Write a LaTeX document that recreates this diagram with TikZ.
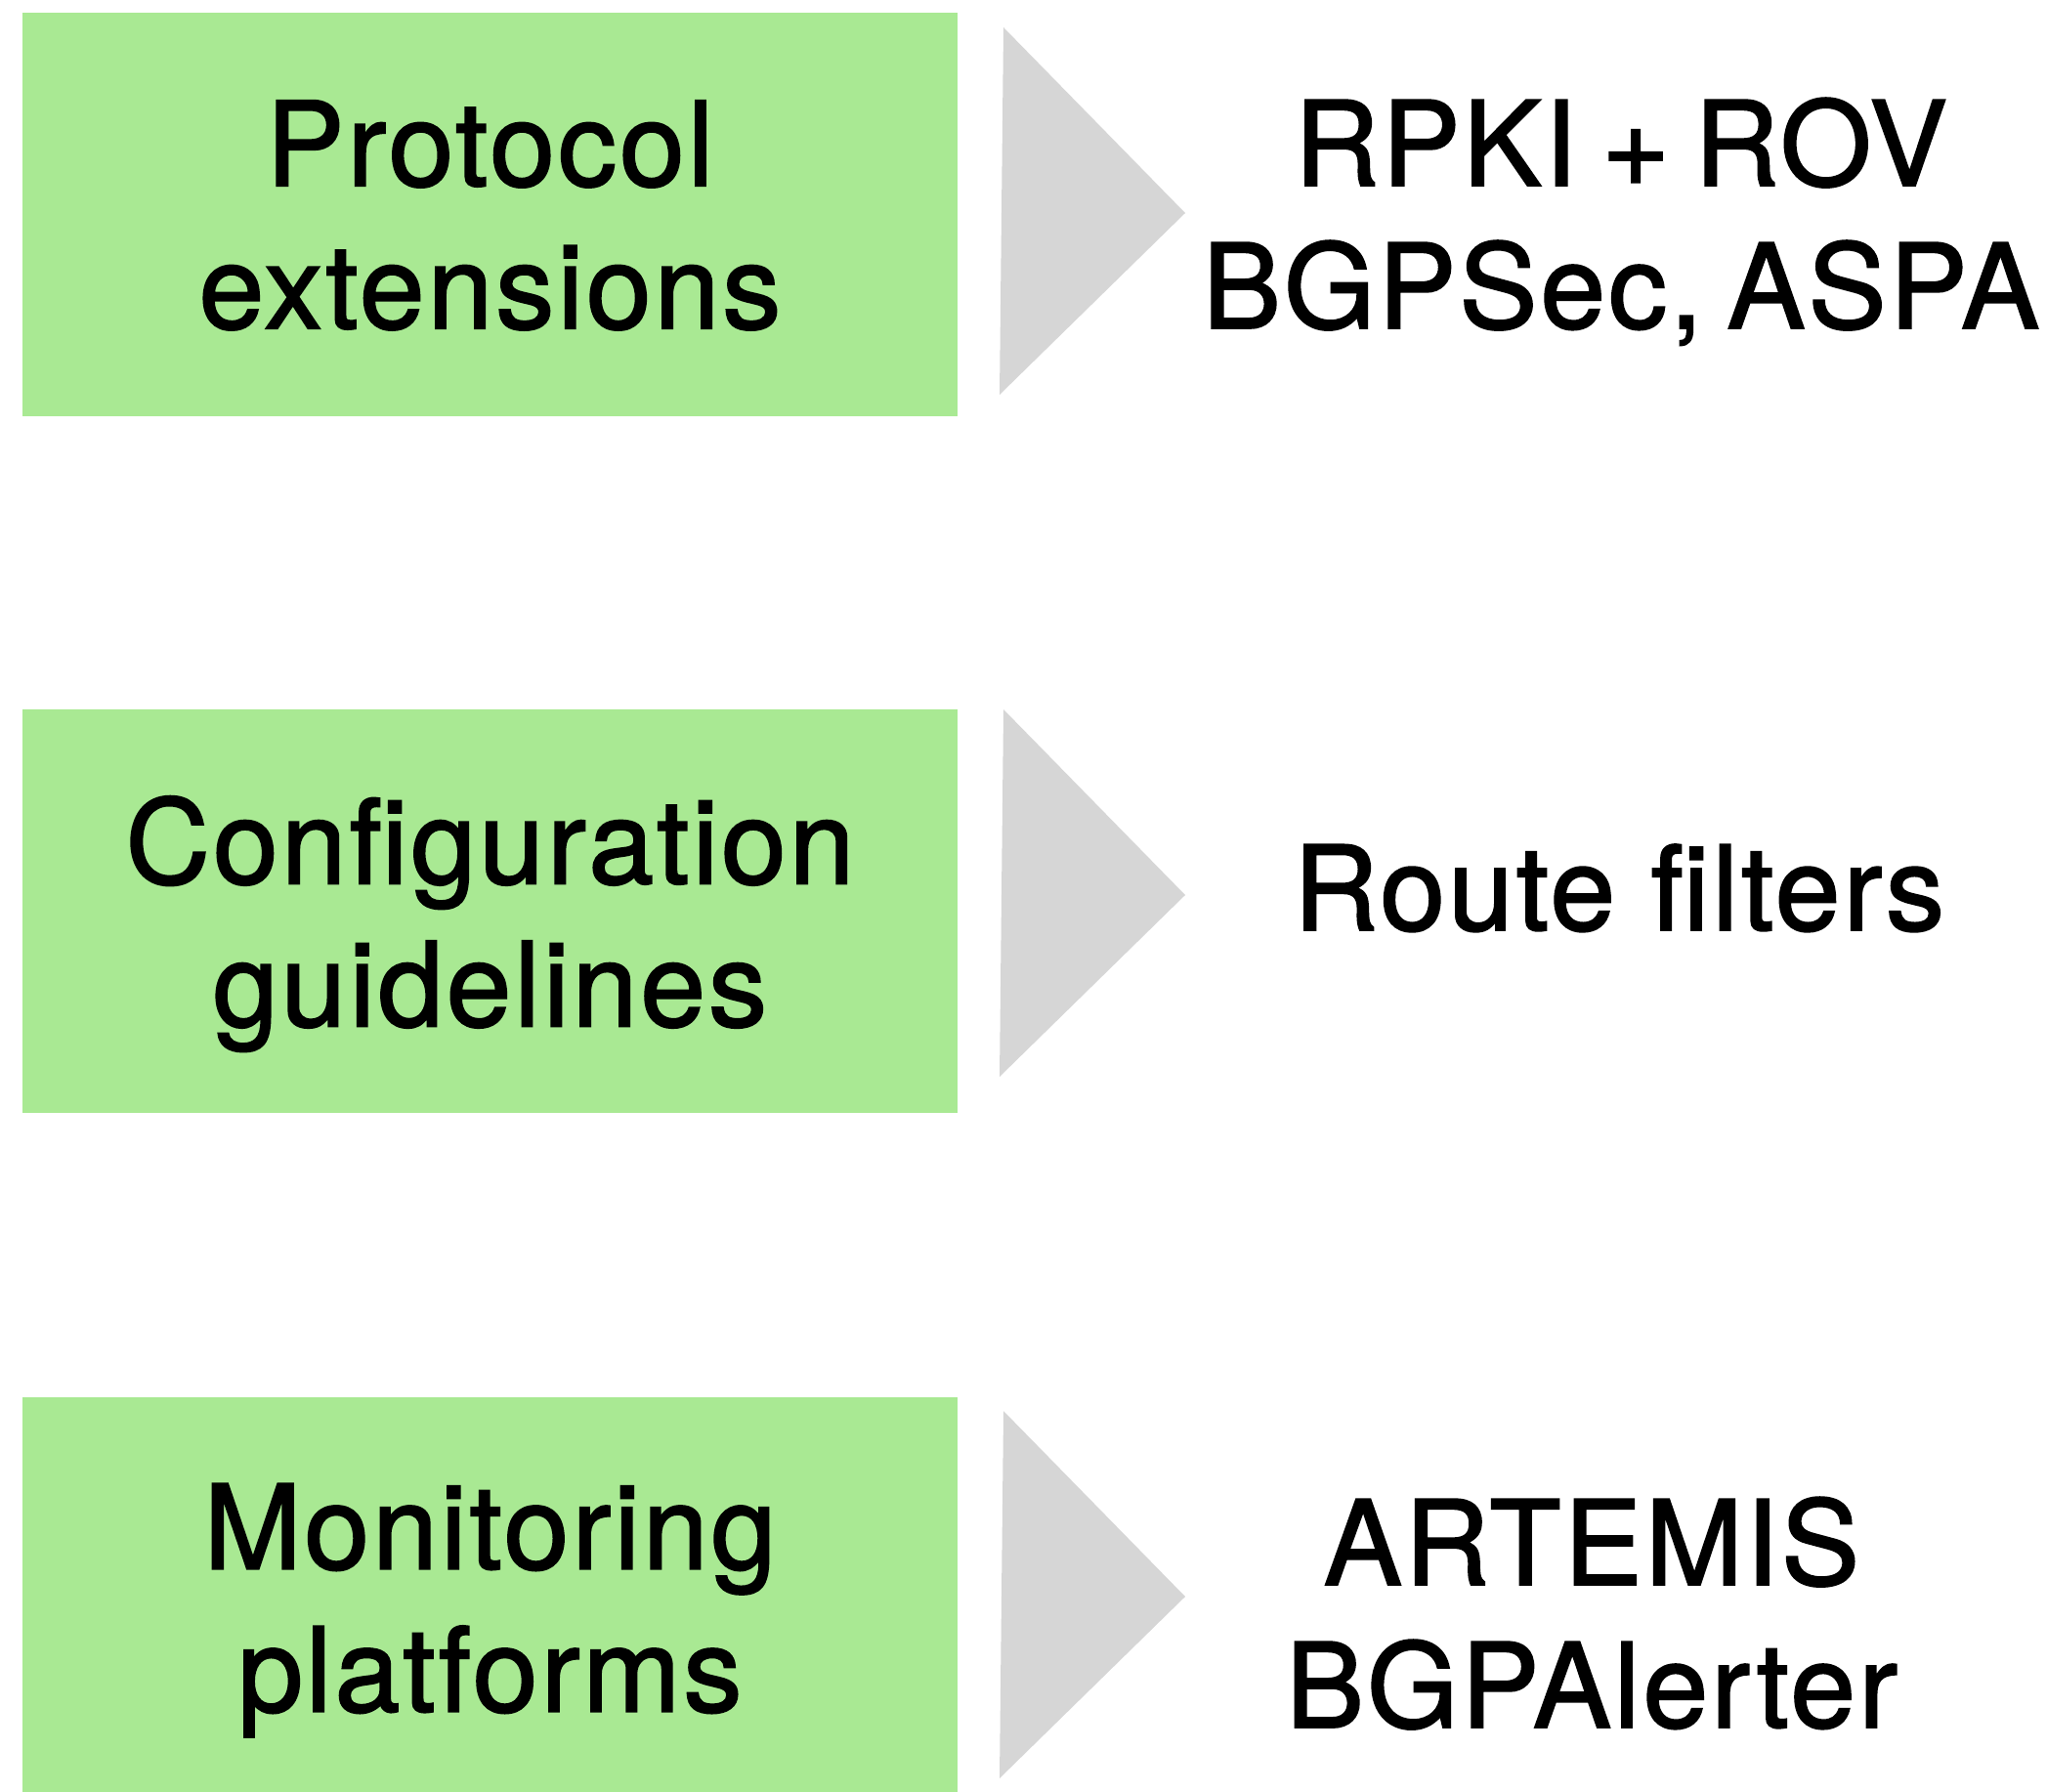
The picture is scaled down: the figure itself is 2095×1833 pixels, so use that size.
\documentclass[tikz,border=0pt]{standalone}
\usepackage{fontspec}
\setmainfont{TeX Gyre Heros}[FakeBold=1.6,LetterSpace=2.5]
\definecolor{boxgreen}{RGB}{169,233,147}
\definecolor{arrowgray}{RGB}{214,214,214}
\newcommand{\tightspaces}{\spaceskip 25pt\relax}

\begin{document}
\begin{tikzpicture}[x=1pt,y=-1pt,
    every node/.style={font=\fontsize{120}{146}\selectfont},
    catbox/.style={rectangle,fill=boxgreen,minimum width=957pt,minimum height=413pt,inner sep=0pt,align=center,text depth=0pt},
    tool/.style={align=center,text depth=0pt,inner sep=0pt}]
    \useasboundingbox (0,0) rectangle (2095,1833);

    \node[catbox] (proto) at (501.5,219.5) {Protocol\\extensions};
    \node[catbox] (config) at (501.5,932.5) {Configuration\\guidelines};
    \node[catbox,minimum height=410pt] (monit) at (501.5,1635) {Monitoring\\platforms};

    \foreach \y in {28,726,1444}
    {
        \fill[arrowgray] (1027,\y) -- (1213,\y+190) -- (1023,\y+376) -- cycle;
    };

    \node[tool,font={\fontsize{120}{146}\selectfont\tightspaces}] (rpki) at (1659,218) {RPKI + ROV\\BGPSec, ASPA};
    \node[tool] (filters) at (1657,908) {Route filters};
    \node[tool] (artemis) at (1629,1650) {ARTEMIS\\BGPAlerter};
\end{tikzpicture}
\end{document}
